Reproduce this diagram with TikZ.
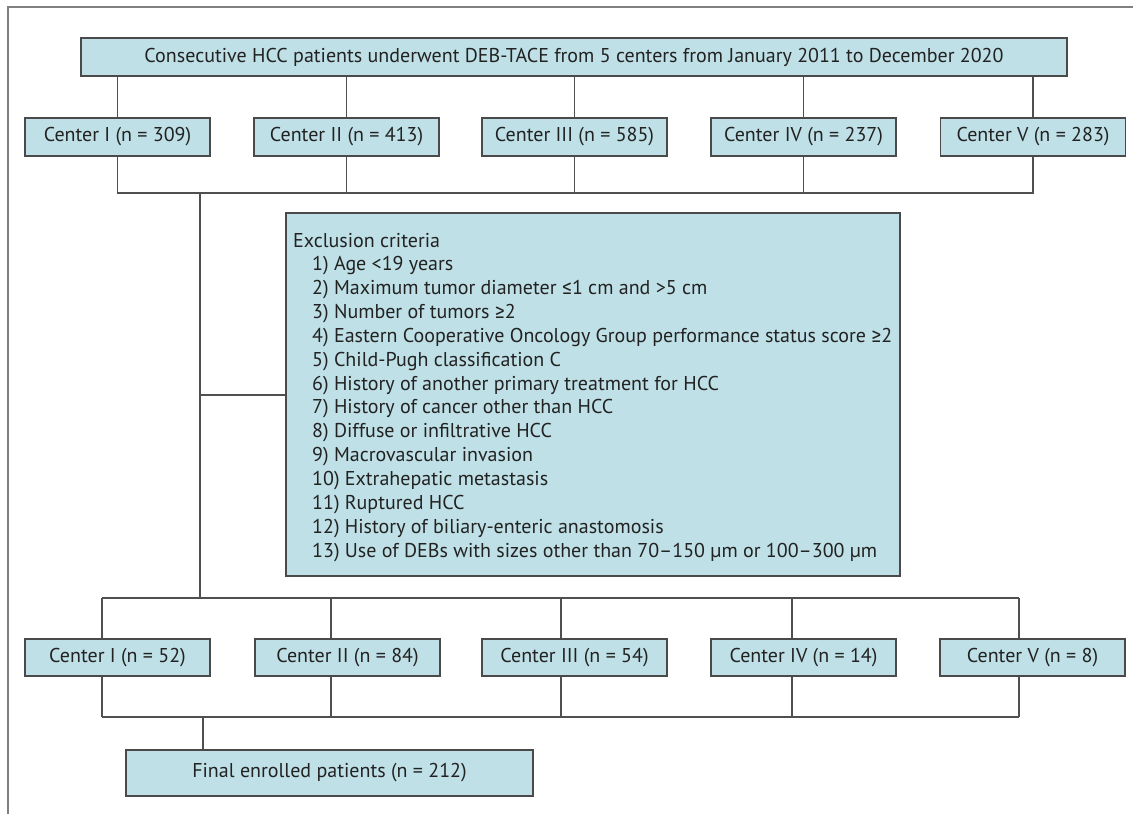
\documentclass[tikz,border=0pt]{standalone}
\usepackage{fontspec}
\setmainfont{PT Sans}
\newfontfamily\symf{Fira Sans}
\newcommand{\mle}{{\symf ≤}}
\newcommand{\mge}{{\symf ≥}}
\definecolor{boxfill}{HTML}{BFE0E6}
\definecolor{boxdraw}{HTML}{4A4A4A}
\definecolor{linec}{HTML}{505050}
\definecolor{framec}{HTML}{808080}
\definecolor{txt}{HTML}{222222}
\tikzset{
  fbox/.style={draw=boxdraw, fill=boxfill, line width=1.2pt, inner sep=0pt,
    text=txt, font=\fontsize{20}{22}\selectfont, minimum height=38pt},
  cbox/.style={fbox, minimum width=185pt},
  conn/.style={draw=linec, line width=1.2pt},
  extxt/.style={anchor=base west, inner sep=0pt, text=txt, font=\fontsize{20}{22}\selectfont}
}
\begin{document}
\begin{tikzpicture}[x=1pt, y=-1pt]
\useasboundingbox (0,0) rectangle (1133,814);
\coordinate (fr1) at (8,814);
\coordinate (fr2) at (8,7);
\coordinate (fr3) at (1133,7);
\draw[draw=framec, line width=1.2pt] (fr1) -- (fr2) -- (fr3);

% top
\node[fbox, minimum width=986pt] (top) at (574,57) {Consecutive HCC patients underwent DEB-TACE from 5 centers from January 2011 to December 2020};
% row 1
\node[cbox] (c1) at (117.5,137) {Center I (n = 309)};
\node[cbox] (c2) at (346.5,137) {Center II (n = 413)};
\node[cbox] (c3) at (574.5,137) {Center III (n = 585)};
\node[cbox] (c4) at (803.5,137) {Center IV (n = 237)};
\node[cbox] (c5) at (1033,137) {Center V (n = 283)};
% exclusion
\node[fbox, minimum width=614pt, minimum height=363pt] (ex) at (593,394.5) {};
\node[extxt] (ex0) at (293,247) {Exclusion criteria};
\foreach \i/\t in {1/{1) Age <19 years},
  2/{2) Maximum tumor diameter \mle1 cm and >5 cm},
  3/{3) Number of tumors \mge2},
  4/{4) Eastern Cooperative Oncology Group performance status score \mge2},
  5/{5) Child-Pugh classification C},
  6/{6) History of another primary treatment for HCC},
  7/{7) History of cancer other than HCC},
  8/{8) Diffuse or infiltrative HCC},
  9/{9) Macrovascular invasion},
  10/{10) Extrahepatic metastasis},
  11/{11) Ruptured HCC},
  12/{12) History of biliary-enteric anastomosis},
  13/{13) Use of DEBs with sizes other than 70–150 µm or 100–300 µm}}
  {\node[extxt] (ex\i) at (312,247+\i*23.85) {\t};}
% row 2
\node[cbox, minimum height=37pt] (d1) at (117.5,657.5) {Center I (n = 52)};
\node[cbox, minimum height=37pt] (d2) at (347.5,657.5) {Center II (n = 84)};
\node[cbox, minimum height=37pt] (d3) at (574.5,657.5) {Center III (n = 54)};
\node[cbox, minimum height=37pt] (d4) at (803.5,657.5) {Center IV (n = 14)};
\node[cbox, minimum height=37pt] (d5) at (1032.5,657.5) {Center V (n = 8)};
% final
\node[fbox, minimum width=407pt, minimum height=46pt] (fin) at (329.5,773) {Final enrolled patients (n = 212)};

% connectors top -> row1
\foreach \n in {c1,c2,c3,c4,c5} {\draw[conn] (top.south -| \n.north) -- (\n.north);}
% row1 -> merge
\coordinate (j1) at (574,193);
\draw[conn] (c1.south) |- (j1) -| (c5.south);
\foreach \n in {c2,c3,c4} {\draw[conn] (\n.south) -- (\n.south |- j1);}
% trunk
\coordinate (t1) at (200,193);
\coordinate (t2) at (200,598);
\coordinate (b1) at (200,395);
\draw[conn] (t1) -- (t2);
\draw[conn] (b1) -- (b1 -| ex.west);
% row 2 split and merge
\coordinate (x1) at (102,598);
\coordinate (x2) at (331,598);
\coordinate (x3) at (561,598);
\coordinate (x4) at (792,598);
\coordinate (x5) at (1019,598);
\coordinate (y1) at (102,717);
\coordinate (y2) at (331,717);
\coordinate (y3) at (561,717);
\coordinate (y4) at (792,717);
\coordinate (y5) at (1019,717);
\draw[conn] (x1) -- (x5);
\draw[conn] (y1) -- (y5);
\foreach \i in {1,...,5} {
  \draw[conn] (x\i) -- (d\i.north -| x\i);
  \draw[conn] (d\i.south -| y\i) -- (y\i);
}
\coordinate (t3) at (203,717);
\draw[conn] (t3) -- (t3 |- fin.north);
\end{tikzpicture}
\end{document}
